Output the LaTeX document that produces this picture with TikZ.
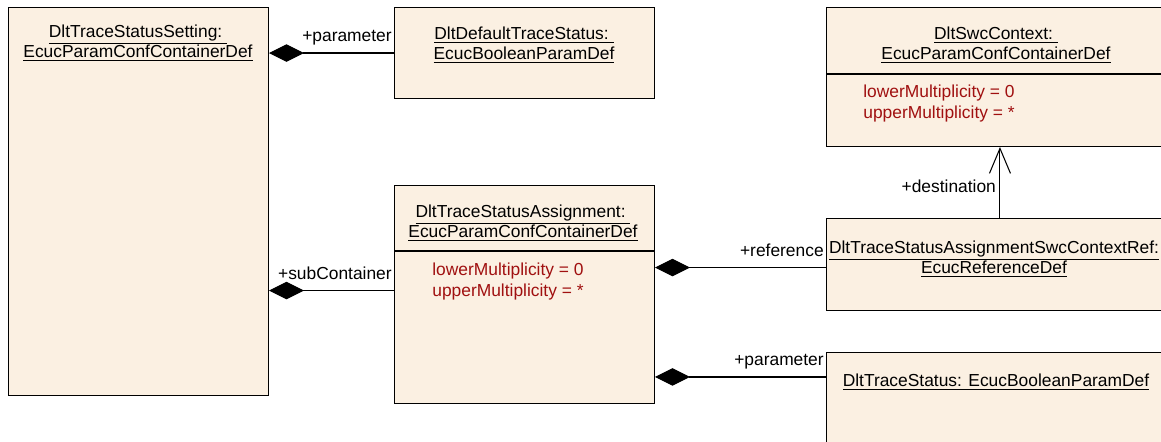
\documentclass[tikz,border=0pt]{standalone}
\usepackage{fontspec}
\setmainfont{Liberation Sans}
\usetikzlibrary{arrows.meta}
\definecolor{boxfill}{RGB}{251,240,226}
\definecolor{attrred}{RGB}{160,16,16}
\begin{document}
\begin{tikzpicture}[x=0.02cm, y=-0.02cm,
        umlbox/.style={draw, fill=boxfill, line width=0.6pt, anchor=north west, inner sep=0pt},
        title/.style={align=center, inner sep=0pt, font=\fontsize{9.9}{11.5}\selectfont},
        attr/.style={align=left, anchor=west, inner sep=0pt, text=attrred, font=\fontsize{9.9}{12.5}\selectfont},
        role/.style={anchor=base east, inner sep=1pt, yshift=6.5pt, font=\fontsize{9.9}{11.5}\selectfont},
        comp/.style={line width=0.6pt, {Diamond[length=7mm,width=3.5mm]}-},
        dest/.style={line width=0.6pt, -{Straight Barb[length=5mm,width=4.2mm]}}]
    \clip (0,0) rectangle (1161,442);
        \node[umlbox, minimum width=5.2cm, minimum height=7.76cm] (setting) at (8,7) {};
            \node[title] (settingname) at (138,43){\underline{DltTraceStatusSetting:\ }\\\underline{EcucParamConfContainerDef}};
        \node[umlbox, minimum width=5.2cm, minimum height=1.82cm] (default) at (394,7) {};
            \node[title] (defaultname) at (524,45){\underline{DltDefaultTraceStatus:\ }\\\underline{EcucBooleanParamDef}};
        \node[umlbox, minimum width=7.48cm, minimum height=2.78cm] (swc) at (826,7) {};
            \node[title] (swcname) at (996,45){\underline{DltSwcContext:\ }\\\underline{EcucParamConfContainerDef}};
            \draw[line width=0.6pt] ([yshift=-1.34cm]swc.north west) to ([yshift=-1.34cm]swc.north east);
            \node[attr] (swcattr) at (863,103.5){lowerMultiplicity = 0\\upperMultiplicity = *};
        \node[umlbox, minimum width=5.2cm, minimum height=4.36cm] (assign) at (394,185) {};
            \node[title] (assignname) at (523,223){\underline{DltTraceStatusAssignment:\ }\\\underline{EcucParamConfContainerDef}};
            \draw[line width=0.6pt] ([yshift=-1.32cm]assign.north west) to ([yshift=-1.32cm]assign.north east);
            \node[attr] (assignattr) at (432,281.5){lowerMultiplicity = 0\\upperMultiplicity = *};
        \node[umlbox, minimum width=7.48cm, minimum height=1.84cm] (ref) at (826,218) {};
            \node[title] (refname) at (994,259){\underline{DltTraceStatusAssignmentSwcContextRef:}\\\underline{EcucReferenceDef}};
        \node[umlbox, minimum width=7.48cm, minimum height=2.36cm] (trace) at (826,352) {};
            \node[title] (tracename) at (996,382){\underline{DltTraceStatus: EcucBooleanParamDef}};

        \coordinate (subport) at ([yshift=0.08cm]assign.west);
        \coordinate (refport) at ([yshift=-0.06cm]ref.west);
        \coordinate (traceport) at ([yshift=-0.5cm]trace.north west);
        \coordinate (destport) at ([xshift=3.48cm]ref.north west);

        \draw[comp] (setting.east |- default.west) to node[role, pos=1] (paramrole) {+parameter} (default.west);
        \draw[comp] (setting.east |- subport) to node[role, pos=1] (subrole) {+subContainer} (subport);
        \draw[comp] (assign.east |- refport) to node[role, pos=1] (refrole) {+reference} (refport);
        \draw[comp] (assign.east |- traceport) to node[role, pos=1] (tracerole) {+parameter} (traceport);
        \draw[dest] (destport) to node[pos=0.44, left, inner sep=2pt, font=\fontsize{9.9}{11.5}\selectfont] (destrole) {+destination} (destport |- swc.south);
\end{tikzpicture}
\end{document}
